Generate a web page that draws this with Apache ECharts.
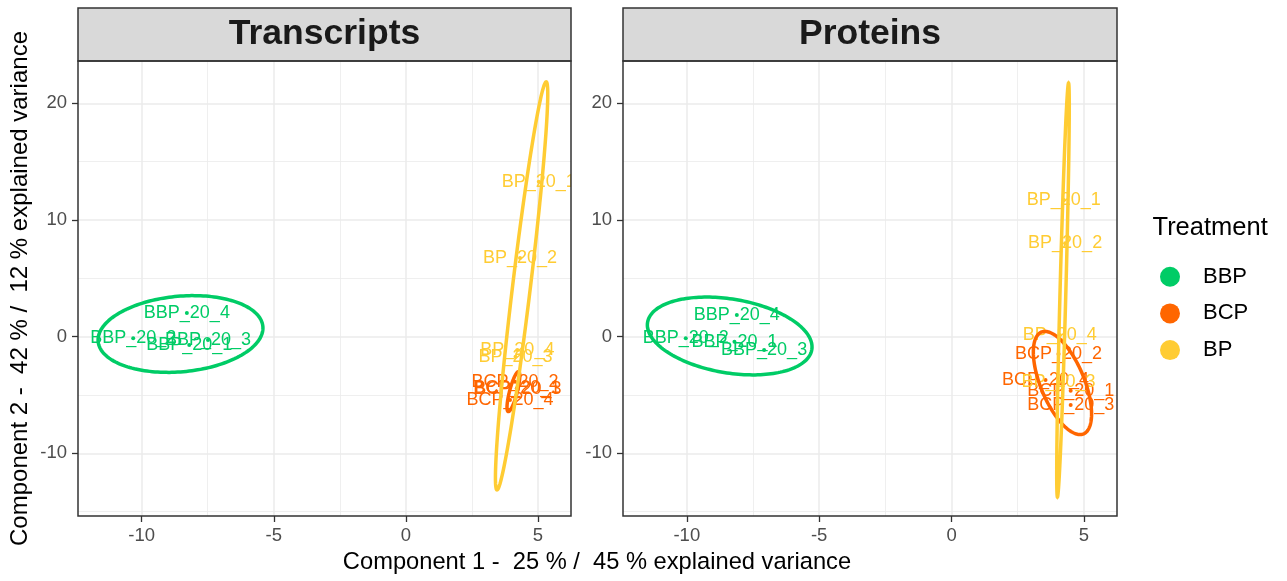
<!DOCTYPE html>
<html><head><meta charset="utf-8">
<script src="https://cdn.jsdelivr.net/npm/echarts@6/dist/echarts.min.js"></script>
<style>html,body{margin:0;padding:0;background:#fff}#c{width:1287px;height:581px}</style>
</head><body><div id="c"></div>
<script>
// ---------------- data ----------------
const panels = ['Transcripts', 'Proteins'];
const treatments = ['BBP', 'BCP', 'BP'];
const sampleSuffix = ['20_1', '20_2', '20_3', '20_4'];
const xTicks = [-10, -5, 0, 5];
const xMinorTicks = [-7.5, -2.5, 2.5];
const yTicks = [-10, 0, 10, 20];
const yMinorTicks = [-15, -5, 5, 15];
const xTitle = 'Component 1 -  25 % /  45 % explained variance';
const yTitle = 'Component 2 -  42 % /  12 % explained variance';
const legendTitle = 'Treatment';

// Transcripts (samples _1.._4)
const trBBP_x = [-8.2, -10.32, -7.49, -8.29];
const trBBP_y = [-0.71, -0.14, -0.28, 2.03];
const trBCP_x = [4.2, 4.13, 4.24, 3.94];
const trBCP_y = [-4.42, -3.86, -4.48, -5.43];
const trBP_x = [5.03, 4.32, 4.15, 4.22];
const trBP_y = [13.29, 6.75, -1.71, -1.14];
// Proteins
const prBBP_x = [-8.2, -10.04, -7.08, -8.11];
const prBBP_y = [-0.43, -0.14, -1.14, 1.86];
const prBCP_x = [4.5, 4.04, 4.5, 3.55];
const prBCP_y = [-4.63, -1.48, -5.85, -3.71];
const prBP_x = [4.24, 4.29, 4.04, 4.09];
const prBP_y = [11.72, 8.0, -3.86, 0.15];

// ellipses: [centre x, centre y, axis1 dx, axis1 dy, axis2 dx, axis2 dy]
const trEllBBP = [-8.53, 0.23, 3.12, 0.51, 0, 3.25];
const trEllBCP = [4.07, -4.71, 0.19, 1.71, 0.15, 0];
const trEllBP = [4.38, 4.35, 0.93, 17.49, 0.34, 0];
const prEllBBP = [-8.38, 0.06, 3.11, -0.94, 0, 3.2];
const prEllBCP = [4.19, -3.97, -0.66, 4.42, 0.88, 0];
const prEllBP = [4.21, 4.0, 0.21, 17.74, 0.11, 0];

// ---------------- styling ----------------
const FONT = '"Liberation Sans", Arial, sans-serif';
const COLORS = { BBP: '#00CC66', BCP: '#FF6600', BP: '#FFCC33' };
const X_RANGE = [-12.41, 6.25];
const Y_RANGE = [-15.37, 23.63];
const GRIDS = [
  { left: 78, top: 61, width: 493, height: 455 },
  { left: 623, top: 61, width: 494, height: 455 }
];

const pointSets = [
  { BBP: [trBBP_x, trBBP_y], BCP: [trBCP_x, trBCP_y], BP: [trBP_x, trBP_y] },
  { BBP: [prBBP_x, prBBP_y], BCP: [prBCP_x, prBCP_y], BP: [prBP_x, prBP_y] }
];
const ellipseSets = [
  { BBP: trEllBBP, BCP: trEllBCP, BP: trEllBP },
  { BBP: prEllBBP, BCP: prEllBCP, BP: prEllBP }
];

const xAxes = [], yAxes = [], series = [], graphics = [];

GRIDS.forEach((g, p) => {
  xAxes.push({
    type: 'value', gridIndex: p, position: 'bottom', min: X_RANGE[0], max: X_RANGE[1],
    axisLine: { show: false, onZero: false },
    axisTick: { show: true, length: 6, customValues: xTicks, lineStyle: { color: '#333', width: 1.3 } },
    axisLabel: { customValues: xTicks, fontSize: 18.5, color: '#4d4d4d', fontFamily: FONT, margin: 10 },
    splitLine: { show: true, lineStyle: { color: '#ebebeb', width: 1.5 } }
  });
  xAxes.push({
    type: 'value', gridIndex: p, position: 'top', min: X_RANGE[0], max: X_RANGE[1],
    axisLine: { show: false, onZero: false },
    axisTick: { show: false, customValues: xMinorTicks },
    axisLabel: { show: false, customValues: xMinorTicks },
    splitLine: { show: true, lineStyle: { color: '#ebebeb', width: 0.8 } }
  });
  yAxes.push({
    type: 'value', gridIndex: p, position: 'left', min: Y_RANGE[0], max: Y_RANGE[1],
    axisLine: { show: false, onZero: false },
    axisTick: { show: true, length: 6, customValues: yTicks, lineStyle: { color: '#333', width: 1.3 } },
    axisLabel: { customValues: yTicks, fontSize: 18.5, color: '#4d4d4d', fontFamily: FONT, margin: 11 },
    splitLine: { show: true, lineStyle: { color: '#ebebeb', width: 1.5 } }
  });
  yAxes.push({
    type: 'value', gridIndex: p, position: 'right', min: Y_RANGE[0], max: Y_RANGE[1],
    axisLine: { show: false, onZero: false },
    axisTick: { show: false, customValues: yMinorTicks },
    axisLabel: { show: false, customValues: yMinorTicks },
    splitLine: { show: true, lineStyle: { color: '#ebebeb', width: 0.8 } }
  });

  // labels + points
  treatments.forEach(t => {
    const [xs, ys] = pointSets[p][t];
    const data = xs.map((x, i) => [x, ys[i]]);
    series.push({
      type: 'custom', name: t, coordinateSystem: 'cartesian2d',
      xAxisIndex: 2 * p, yAxisIndex: 2 * p, clip: true, z: 3,
      itemStyle: { color: COLORS[t] },
      encode: { x: 0, y: 1 },
      data: data,
      renderItem: (params, api) => {
        const c = api.coord([api.value(0), api.value(1)]);
        const label = t + '_' + sampleSuffix[params.dataIndex];
        return {
          type: 'group', children: [
            { type: 'circle', shape: { cx: c[0], cy: c[1], r: 2 }, style: { fill: COLORS[t] } },
            { type: 'text', x: c[0], y: c[1], style: { text: label, fill: COLORS[t], fontSize: 18, fontFamily: FONT, align: 'center', verticalAlign: 'middle' } }
          ]
        };
      }
    });
  });
});

// ellipses (drawn on top)
GRIDS.forEach((g, p) => {
  treatments.forEach(t => {
    series.push({
      type: 'custom', name: t, coordinateSystem: 'cartesian2d',
      xAxisIndex: 2 * p, yAxisIndex: 2 * p, clip: true, z: 4,
      itemStyle: { color: COLORS[t] },
      encode: { x: 0, y: 1 },
      data: [ellipseSets[p][t]],
      renderItem: (params, api) => {
        const v = [0, 1, 2, 3, 4, 5].map(i => api.value(i));
        const pts = [];
        const N = 180;
        for (let i = 0; i < N; i++) {
          const a = i / N * 2 * Math.PI;
          pts.push(api.coord([v[0] + Math.cos(a) * v[2] + Math.sin(a) * v[4],
                              v[1] + Math.cos(a) * v[3] + Math.sin(a) * v[5]]));
        }
        return { type: 'polygon', shape: { points: pts }, style: { fill: 'none', stroke: COLORS[t], lineWidth: 3.5 } };
      }
    });
  });
});

// strips, borders, titles
GRIDS.forEach((g, p) => {
  graphics.push({ type: 'rect', z: 100, shape: { x: g.left, y: 8, width: g.width, height: 53 },
    style: { fill: '#d9d9d9', stroke: '#333', lineWidth: 1.5 } });
  graphics.push({ type: 'text', z: 101, x: g.left + g.width / 2, y: 34.6,
    style: { text: panels[p], fill: '#1a1a1a', fontSize: 35.5, fontWeight: 'bold', fontFamily: FONT, align: 'center', verticalAlign: 'middle' } });
  graphics.push({ type: 'rect', z: 100, shape: { x: g.left, y: g.top, width: g.width, height: g.height },
    style: { fill: 'none', stroke: '#333', lineWidth: 1.5 } });
});
graphics.push({ type: 'text', z: 101, x: 597, y: 562,
  style: { text: xTitle, fill: '#000', fontSize: 23.7, fontFamily: FONT, align: 'center', verticalAlign: 'middle' } });
graphics.push({ type: 'text', z: 101, x: 20, y: 288.5, rotation: Math.PI / 2,
  style: { text: yTitle, fill: '#000', fontSize: 24, fontFamily: FONT, align: 'center', verticalAlign: 'middle' } });
graphics.push({ type: 'text', z: 101, x: 1152.5, y: 228.3,
  style: { text: legendTitle, fill: '#000', fontSize: 25.5, fontFamily: FONT, align: 'left', verticalAlign: 'middle' } });

const chart = echarts.init(document.getElementById('c'), null, { renderer: 'canvas' });
chart.setOption({
  animation: false,
  backgroundColor: '#fff',
  grid: GRIDS.map(g => Object.assign({ show: false, containLabel: false }, g)),
  xAxis: xAxes,
  yAxis: yAxes,
  legend: {
    data: treatments.map(n => ({ name: n, icon: 'circle' })),
    orient: 'vertical', left: 1155, top: 260.7, itemWidth: 20, itemHeight: 20, itemGap: 14.7,
    selectedMode: false,
    textStyle: { fontSize: 22, lineHeight: 22, color: '#000', fontFamily: FONT, padding: [0, 0, 0, 18] }
  },
  graphic: graphics,
  series: series
});
</script>
</body></html>
